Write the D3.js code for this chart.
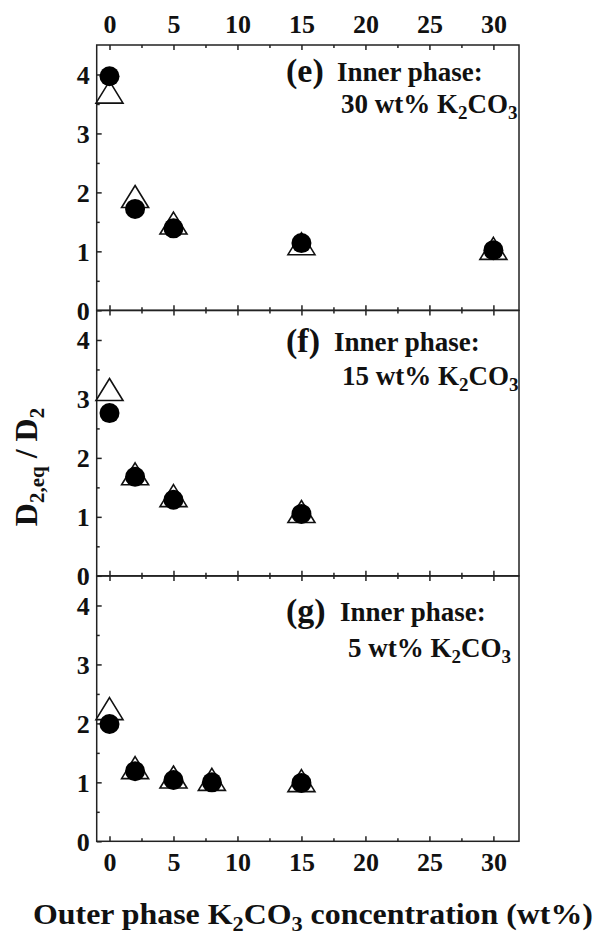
<!DOCTYPE html>
<html>
<head>
<meta charset="utf-8">
<script src="https://cdn.jsdelivr.net/npm/d3@7"></script>
<style>
  html, body { margin: 0; padding: 0; background: #fff; }
  svg { display: block; }
  text { font-family: "Liberation Serif", "Times New Roman", serif; font-weight: bold; fill: #111; }
</style>
</head>
<body>
<svg id="chart" width="597" height="938"></svg>
<script>
// ---------- data ----------
const panelIds = ["e", "f", "g"];
const innerConc = ["30", "15", "5"];

const xE = [0, 2, 5, 15, 30];
const circleE = [3.97, 1.72, 1.39, 1.14, 1.02];
const triangleE = [3.70, 1.93, 1.48, 1.13, 1.05];

const xF = [0, 2, 5, 15];
const circleF = [2.76, 1.68, 1.29, 1.05];
const triangleF = [3.16, 1.73, 1.36, 1.09];

const xG = [0, 2, 5, 8, 15];
const circleG = [1.99, 1.19, 1.04, 1.00, 0.99];
const triangleG = [2.25, 1.25, 1.09, 1.05, 1.03];

const xTickLabels = [0, 5, 10, 15, 20, 25, 30];
const xMinorTicks = [2.5, 7.5, 12.5, 17.5, 22.5, 27.5];
const yTickLabels = [0, 1, 2, 3, 4];
const yMinorTicks = [0.5, 1.5, 2.5, 3.5];

const yTitleMain = "D";
const yTitleSub1 = "2,eq";
const yTitleMid = " / D";
const yTitleSub2 = "2";
const xTitle = ["Outer phase K", "2", "CO", "3", " concentration (wt%)"];

// ---------- layout ----------
const svg = d3.select("#chart");
const left = 96.7, right = 519;
const panelTops = [45, 310.5, 576];
const panelH = 265.3;

const x = d3.scaleLinear().domain([-1, 32]).range([left, right]);

const series = [
  { xs: xE, circ: circleE, tri: triangleE },
  { xs: xF, circ: circleF, tri: triangleF },
  { xs: xG, circ: circleG, tri: triangleG }
];

// annotation layout per panel [labelX, innerX, line1Baseline, line2X, line2Baseline]
const annot = [
  [286, 337, 81, 341, 113],
  [286, 334, 351, 342, 385],
  [286, 340, 621, 348, 657]
];

const triW = 27, triH = 22, circR = 10;
const triPath = `M0,${-triH/2}L${triW/2},${triH/2}L${-triW/2},${triH/2}Z`;

panelIds.forEach((id, i) => {
  const top = panelTops[i], bottom = top + panelH;
  const y = d3.scaleLinear().domain([0, 4.5]).range([bottom, top]);
  const g = svg.append("g");

  // inward ticks: bottom edge (pointing up)
  const tickStyle = sel => {
    sel.select(".domain").remove();
    sel.selectAll(".tick line").attr("stroke", "#222").attr("stroke-width", 1.5);
    sel.selectAll(".tick text").remove();
  };
  g.append("g").attr("transform", `translate(0,${bottom})`)
    .call(d3.axisTop(x).tickValues(xTickLabels).tickSize(5).tickSizeOuter(0)).call(tickStyle);
  g.append("g").attr("transform", `translate(0,${bottom})`)
    .call(d3.axisTop(x).tickValues(xMinorTicks).tickSize(3).tickSizeOuter(0)).call(tickStyle);
  // inward ticks: top edge (pointing down)
  g.append("g").attr("transform", `translate(0,${top})`)
    .call(d3.axisBottom(x).tickValues(xTickLabels).tickSize(5).tickSizeOuter(0)).call(tickStyle);
  g.append("g").attr("transform", `translate(0,${top})`)
    .call(d3.axisBottom(x).tickValues(xMinorTicks).tickSize(3).tickSizeOuter(0)).call(tickStyle);
  // left ticks (pointing right)
  g.append("g").attr("transform", `translate(${left},0)`)
    .call(d3.axisRight(y).tickValues(yTickLabels).tickSize(5).tickSizeOuter(0)).call(tickStyle);
  g.append("g").attr("transform", `translate(${left},0)`)
    .call(d3.axisRight(y).tickValues(yMinorTicks).tickSize(3).tickSizeOuter(0)).call(tickStyle);

  // y labels
  const yl = g.append("g").attr("transform", `translate(${left},0)`)
    .call(d3.axisLeft(y).tickValues(yTickLabels).tickSize(0).tickPadding(7).tickFormat(d3.format("d")));
  yl.select(".domain").remove();
  yl.selectAll(".tick text").attr("font-size", 26).attr("font-family", null).attr("fill", "#111").attr("dy", "0.34em");

  // frame
  g.append("rect").attr("x", left).attr("y", top).attr("width", right - left).attr("height", panelH)
    .attr("fill", "none").attr("stroke", "#222").attr("stroke-width", 1.5);

  // markers: triangles first, circles on top
  const s = series[i];
  const triData = s.xs.map((v, k) => ({ x: v, y: s.tri[k] }));
  const circData = s.xs.map((v, k) => ({ x: v, y: s.circ[k] }));
  g.selectAll("path.tri").data(triData).join("path").attr("class", "tri")
    .attr("d", triPath)
    .attr("transform", d => `translate(${x(d.x)},${y(d.y)})`)
    .attr("fill", "#fff").attr("stroke", "#111").attr("stroke-width", 1.6);
  g.selectAll("circle.c").data(circData).join("circle").attr("class", "c")
    .attr("cx", d => x(d.x)).attr("cy", d => y(d.y)).attr("r", circR)
    .attr("fill", "#000");

  // annotation
  const a = annot[i];
  g.append("text").attr("x", a[0]).attr("y", a[2] + 1).attr("font-size", 34).text(`(${id})`);
  g.append("text").attr("x", a[1]).attr("y", a[2]).attr("font-size", 27).text("Inner phase:");
  const t2 = g.append("text").attr("x", a[3]).attr("y", a[4]).attr("font-size", 27);
  t2.append("tspan").text(`${innerConc[i]} wt% K`);
  t2.append("tspan").attr("font-size", 19).attr("dy", 6).text("2");
  t2.append("tspan").attr("dy", -6).text("CO");
  t2.append("tspan").attr("font-size", 19).attr("dy", 6).text("3");

  // axis labels top / bottom
  if (i === 0) {
    const ta = g.append("g").attr("transform", `translate(0,${top})`)
      .call(d3.axisTop(x).tickValues(xTickLabels).tickSize(0).tickPadding(12));
    ta.select(".domain").remove();
    ta.selectAll(".tick text").attr("font-size", 26).attr("font-family", null).attr("fill", "#111");
  }
  if (i === 2) {
    const ba = g.append("g").attr("transform", `translate(0,${bottom})`)
      .call(d3.axisBottom(x).tickValues(xTickLabels).tickSize(0).tickPadding(11));
    ba.select(".domain").remove();
    ba.selectAll(".tick text").attr("font-size", 26).attr("font-family", null).attr("fill", "#111");
  }
});

// y title
const yt = svg.append("text")
  .attr("transform", "translate(37,467) rotate(-90)")
  .attr("text-anchor", "middle").attr("font-size", 32);
yt.append("tspan").text(yTitleMain);
yt.append("tspan").attr("font-size", 21).attr("dy", 7).text(yTitleSub1);
yt.append("tspan").attr("dy", -7).text(yTitleMid);
yt.append("tspan").attr("font-size", 21).attr("dy", 7).text(yTitleSub2);

// x title
const xt = svg.append("text").attr("x", 33).attr("y", 924).attr("font-size", 30)
  .attr("textLength", 560).attr("lengthAdjust", "spacingAndGlyphs");
xTitle.forEach((s, k) => {
  const sp = xt.append("tspan").text(s);
  if (k === 1 || k === 3) sp.attr("font-size", 21).attr("dy", 7);
  if (k === 2 || k === 4) sp.attr("dy", -7);
});
</script>
</body>
</html>
